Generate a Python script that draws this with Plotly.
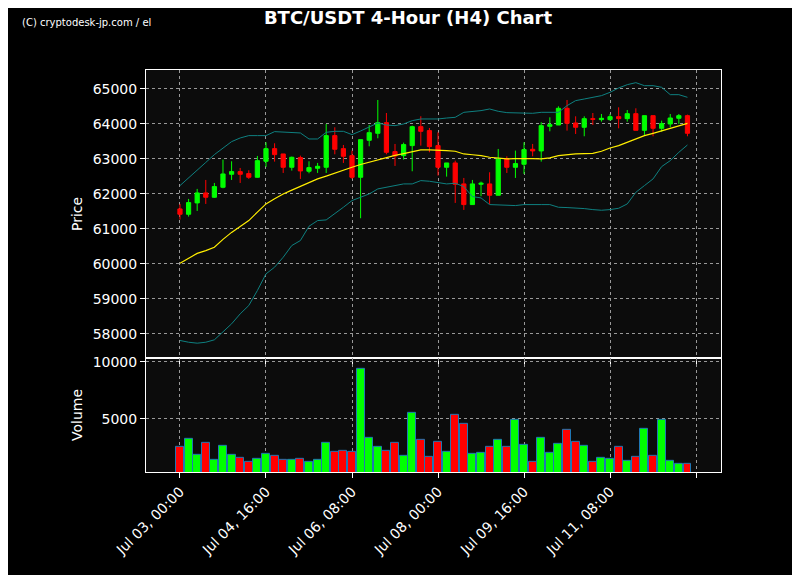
import pandas as pd
import plotly.graph_objects as go
from plotly.subplots import make_subplots

dates = pd.date_range("2024-07-03 00:00", periods=60, freq="4h")

opens = [61571,61419,61743,62029,61905,62190,62562,62638,62581,62476,
         62933,63295,63143,62762,63038,62648,62733,62762,63667,63295,
         63095,62476,63533,63733,64038,63210,63095,63381,63924,63810,
         63381,62762,62886,62286,61695,62276,62286,61962,63000,62762,
         62848,63276,63229,63933,63971,64448,64029,63905,64152,64124,
         64124,64210,64152,64295,63819,64238,63876,64000,64162,64238]
highs = [61714,61857,62143,62400,62314,62981,62933,62743,62676,63086,
         63476,63448,63143,63067,63095,62933,62886,64000,63905,63400,
         63238,63552,63971,64686,64314,63429,63467,63952,64219,63886,
         63762,62886,62952,62457,62400,62352,62619,63286,63076,63238,
         63476,63429,64048,64190,64505,64686,64219,64219,64314,64286,
         64286,64476,64400,64448,64238,64238,64095,64286,64286,64267]
lows = [61267,61352,61514,61714,61886,62162,62400,62314,62429,62467,
        62771,62924,62600,62667,62429,62590,62600,62600,63133,62886,
        62429,61305,63362,63590,63133,62800,62981,62648,63381,63190,
        62524,62495,61743,61543,61695,61933,61714,61962,62600,62457,
        62571,63076,62924,63790,63971,63810,63714,63648,63971,64067,
        64095,63876,64067,63819,63686,63648,63781,63905,64000,63648]
closes = [61419,61752,62029,61905,62210,62571,62638,62562,62476,62952,
          63295,63124,62762,63048,62657,62752,62790,63667,63276,63076,
          62476,63552,63752,64038,63190,63086,63410,63924,63790,63352,
          62762,62886,62276,61695,62286,62305,61962,63000,62762,62867,
          63267,63229,63952,63981,64448,64019,63905,64152,64133,64162,
          64210,64152,64295,63819,64238,63876,64010,64171,64238,63733]
volumes = [2586,3276,1839,2931,1379,2672,1839,1551,1207,1465,
           1983,1724,1379,1379,1465,1207,1379,2931,2155,2241,
           2155,9397,3362,2586,2241,2931,1724,5517,3189,1638,
           3017,2155,5345,4569,1983,2069,2586,3189,2586,4914,
           2758,1207,3362,2069,2845,4052,3017,2672,1207,1551,
           1465,2586,1293,1638,4138,1810,4914,1293,1034,1034]
ma = [60019,60150,60300,60380,60476,60700,60900,61070,61238,61480,
      61714,61860,62000,62110,62220,62330,62429,62510,62600,62690,
      62762,62840,62910,62980,63048,63100,63150,63200,63257,63257,
      63257,63240,63220,63143,63120,63095,63048,63020,63000,63010,
      63020,63010,63000,63030,63095,63124,63143,63150,63162,63219,
      63314,63380,63476,63571,63667,63733,63810,63876,63943,64019]
upper = [62238,62450,62667,62900,63124,63320,63495,63600,63667,63667,
         63667,63781,63770,63752,63743,63571,63571,63762,63790,63790,
         63695,63800,63905,64029,63971,63952,64000,64095,64143,64143,
         64143,64170,64190,64333,64352,64381,64429,64362,64324,64324,
         64324,64305,64333,64333,64333,64524,64667,64714,64762,64810,
         64905,65029,65124,65181,65095,65095,65048,64838,64838,64762]
lower = [57810,57760,57733,57760,57829,58048,58286,58571,58810,59238,
         59714,59905,60190,60524,60667,61076,61238,61257,61429,61619,
         61810,61905,62000,62143,62190,62238,62286,62286,62381,62362,
         62314,62286,62305,62210,61924,61886,61695,61686,61667,61667,
         61695,61705,61695,61695,61619,61610,61600,61581,61552,61533,
         61552,61590,61714,62048,62238,62429,62781,62952,63190,63400]

tick_dates = pd.date_range("2024-07-03 00:00", periods=7, freq="40h")
tick_labels = [d.strftime("%b %d, %H:%M") for d in tick_dates[:6]] + [""]

bar_colors = ["#00ff00" if c >= o else "#ff0000" for o, c in zip(opens, closes)]

fig = make_subplots(rows=2, cols=1, shared_xaxes=True, vertical_spacing=0,
                    row_heights=[0.716, 0.284])

fig.add_trace(go.Scatter(x=dates, y=upper, mode="lines",
                         line=dict(color="#0f8080", width=1), showlegend=False), row=1, col=1)
fig.add_trace(go.Scatter(x=dates, y=lower, mode="lines",
                         line=dict(color="#0f8080", width=1), showlegend=False), row=1, col=1)
fig.add_trace(go.Scatter(x=dates, y=ma, mode="lines",
                         line=dict(color="#ffee00", width=1.2), showlegend=False), row=1, col=1)
fig.add_trace(go.Candlestick(x=dates, open=opens, high=highs, low=lows, close=closes,
                             increasing=dict(line=dict(color="#00ff00", width=1), fillcolor="#00ff00"),
                             decreasing=dict(line=dict(color="#ff0000", width=1), fillcolor="#ff0000"),
                             whiskerwidth=0, showlegend=False), row=1, col=1)
fig.add_trace(go.Bar(x=dates, y=volumes, marker=dict(color=bar_colors,
                     line=dict(color="#1f77b4", width=1)),
                     width=4*3600*1000*0.92, showlegend=False), row=2, col=1)

grid = dict(showgrid=True, gridcolor="#999999", griddash="dot", gridwidth=1,
            showline=True, linecolor="white", linewidth=1, mirror=True,
            ticks="outside", tickcolor="white", tickfont=dict(color="white", size=14),
            zeroline=False)

xr = [dates[0] - pd.Timedelta(hours=4*3.95), dates[0] + pd.Timedelta(hours=4*62.9)]
fig.update_xaxes(**grid, range=xr, tickvals=tick_dates, ticktext=tick_labels,
                 tickangle=-45, rangeslider_visible=False)
fig.update_xaxes(showticklabels=False, row=1, col=1)
fig.update_yaxes(**grid, tickformat="d")
fig.update_yaxes(range=[57314, 65543], tickvals=list(range(58000, 65001, 1000)),
                 title=dict(text="Price", font=dict(color="white", size=14), standoff=6), row=1, col=1)
fig.update_yaxes(range=[350, 10350], tickvals=[5000, 10000],
                 title=dict(text="Volume", font=dict(color="white", size=14), standoff=6), row=2, col=1)

fig.update_layout(
    width=800, height=575,
    paper_bgcolor="black", plot_bgcolor="#0c0c0c",
    margin=dict(l=138, r=87, t=62, b=111),
    font=dict(family="DejaVu Sans", color="white"),
    title=dict(text="<b>BTC/USDT 4-Hour (H4) Chart</b>", x=0.5, xanchor="center",
               y=0.984, yanchor="middle", font=dict(size=18, color="white")),
    bargap=0,
    annotations=[dict(text="(C) cryptodesk-jp.com / el", xref="paper", yref="paper",
                      x=-0.22, y=1.118, xanchor="left", yanchor="middle", showarrow=False,
                      font=dict(size=10, color="white"))],
)

fig.write_html("out.html")
